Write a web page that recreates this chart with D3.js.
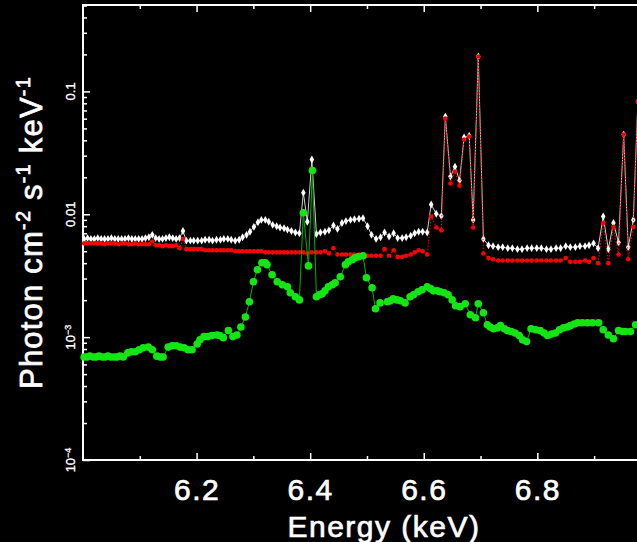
<!DOCTYPE html>
<html>
<head>
<meta charset="utf-8">
<script src="https://cdn.jsdelivr.net/npm/d3@7"></script>
<style>
    html, body { margin: 0; padding: 0; background: #000; overflow: hidden; }
    svg { display: block; }
</style>
</head>
<body>
<div id="spectrum"></div>
<script>
// Energy grid shared by the white (data) and red (model) curves, keV
const energies = [
    6.002, 6.008, 6.014, 6.020, 6.026, 6.032, 6.038, 6.044, 6.050, 6.056,
    6.062, 6.068, 6.074, 6.080, 6.086, 6.092, 6.098, 6.104, 6.110, 6.116,
    6.122, 6.128, 6.134, 6.140, 6.146, 6.152, 6.158, 6.164, 6.170, 6.176,
    6.182, 6.189, 6.195, 6.202, 6.209, 6.215, 6.222, 6.228, 6.235, 6.242,
    6.248, 6.255, 6.261, 6.268, 6.275, 6.281, 6.288, 6.294, 6.301, 6.308,
    6.314, 6.321, 6.327, 6.334, 6.341, 6.347, 6.354, 6.360, 6.367, 6.374,
    6.381,
    6.388, 6.395, 6.403, 6.411,
    6.418, 6.426, 6.433, 6.441, 6.448, 6.456, 6.463, 6.471, 6.478, 6.486,
    6.493, 6.501, 6.508, 6.516, 6.524, 6.531, 6.539, 6.547, 6.554, 6.562,
    6.569, 6.577, 6.584, 6.591, 6.598, 6.606,
    6.613, 6.622, 6.631, 6.638, 6.647, 6.655, 6.663, 6.671, 6.680, 6.687,
    6.696, 6.705, 6.714, 6.722,
    6.731, 6.739, 6.748, 6.756, 6.765, 6.773, 6.782, 6.790, 6.799, 6.807,
    6.816, 6.824, 6.833, 6.841, 6.850, 6.858, 6.867, 6.875, 6.884, 6.891,
    6.899, 6.907, 6.916, 6.925, 6.934, 6.943, 6.952, 6.960, 6.969, 6.977,
    6.986, 6.994,
];

// White curve (photon cm-2 s-1 keV-1)
const whiteFlux = [
    0.0063, 0.0064, 0.0063, 0.0063, 0.0064, 0.0063, 0.0063, 0.0063, 0.0064, 0.0063,
    0.0063, 0.0063, 0.0063, 0.0064, 0.0063, 0.0063, 0.0063, 0.0063, 0.0064, 0.0065,
    0.0068, 0.0064, 0.0063, 0.0063, 0.0064, 0.0065, 0.0064, 0.0063, 0.0064, 0.0073,
    0.0061, 0.0061, 0.0061, 0.0061, 0.0061, 0.0062, 0.0062, 0.0061, 0.0062, 0.0062,
    0.0063, 0.0063, 0.0062, 0.0061, 0.0062, 0.0065, 0.0068, 0.0072, 0.0079, 0.0086,
    0.0090, 0.0090, 0.0087, 0.0082, 0.0080, 0.0078, 0.0077, 0.0075, 0.0073, 0.0071,
    0.0070,
    0.0150, 0.0087, 0.0279, 0.0069,
    0.0071, 0.0072, 0.0074, 0.0081, 0.0076, 0.0085, 0.0088, 0.0090, 0.0091, 0.0092,
    0.0093, 0.0080, 0.0068, 0.0063, 0.0065, 0.0071, 0.0066, 0.0070, 0.0064, 0.0064,
    0.0065, 0.0067, 0.0070, 0.0072, 0.0072, 0.0071,
    0.0120, 0.0101, 0.0097, 0.0624, 0.0203, 0.0244, 0.0188, 0.0421, 0.0435, 0.0090,
    0.1925, 0.0063, 0.0056, 0.0055,
    0.0054, 0.0054, 0.0053, 0.0053, 0.0052, 0.0052, 0.0053, 0.0053, 0.0053, 0.0053,
    0.0052, 0.0052, 0.0053, 0.0053, 0.0055, 0.0054, 0.0054, 0.0055, 0.0055, 0.0056,
    0.0058, 0.0053, 0.0096, 0.0052, 0.0085, 0.0059, 0.0445, 0.0054, 0.0090, 0.0827,
    0.0060, 0.0058,
];

// Red curve
const redFlux = [
    0.0058, 0.0058, 0.0058, 0.0058, 0.0058, 0.0058, 0.0057, 0.0058, 0.0058, 0.0058,
    0.0057, 0.0058, 0.0058, 0.0057, 0.0057, 0.0058, 0.0057, 0.0057, 0.0057, 0.0057,
    0.0060, 0.0056, 0.0056, 0.0055, 0.0056, 0.0055, 0.0055, 0.0056, 0.0053, 0.0063,
    0.0052, 0.0052, 0.0052, 0.0052, 0.0052, 0.0051, 0.0051, 0.0051, 0.0051, 0.0051,
    0.0051, 0.0051, 0.0051, 0.0050, 0.0050, 0.0050, 0.0050, 0.0050, 0.0050, 0.0050,
    0.0050, 0.0049, 0.0049, 0.0049, 0.0049, 0.0049, 0.0049, 0.0049, 0.0049, 0.0049,
    0.0049,
    0.0049, 0.0048, 0.0049, 0.0049,
    0.0049, 0.0050, 0.0048, 0.0053, 0.0047, 0.0047, 0.0047, 0.0047, 0.0047, 0.0047,
    0.0046, 0.0046, 0.0046, 0.0046, 0.0046, 0.0052, 0.0046, 0.0051, 0.0045, 0.0045,
    0.0046, 0.0047, 0.0049, 0.0051, 0.0050, 0.0047,
    0.0096, 0.0078, 0.0074, 0.0601, 0.0178, 0.0222, 0.0171, 0.0406, 0.0429, 0.0078,
    0.1925, 0.0048, 0.0044, 0.0043,
    0.0042, 0.0042, 0.0042, 0.0042, 0.0042, 0.0042, 0.0042, 0.0042, 0.0042, 0.0042,
    0.0042, 0.0042, 0.0042, 0.0042, 0.0044, 0.0041, 0.0041, 0.0041, 0.0042, 0.0041,
    0.0044, 0.0040, 0.0085, 0.0040, 0.0079, 0.0047, 0.0445, 0.0043, 0.0079, 0.0827,
    0.0050, 0.0048,
];

// Green curve: its own energies and fluxes
const greenEnergies = [
    6.002, 6.007, 6.012, 6.018, 6.023, 6.028, 6.034, 6.039, 6.044, 6.049,
    6.055, 6.060, 6.065, 6.071, 6.079, 6.085, 6.092, 6.099, 6.106, 6.115,
    6.122, 6.130, 6.136, 6.141, 6.150, 6.157, 6.164, 6.171, 6.178, 6.185,
    6.192, 6.201, 6.206, 6.213, 6.220, 6.227, 6.236, 6.241, 6.247, 6.256,
    6.264, 6.271, 6.278, 6.286, 6.293, 6.300, 6.307, 6.315, 6.321, 6.324,
    6.333, 6.342, 6.351, 6.360, 6.365, 6.374, 6.381, 6.388, 6.397, 6.404,
    6.411, 6.416, 6.421, 6.426, 6.432, 6.439, 6.444, 6.453, 6.462, 6.467,
    6.474, 6.479, 6.485, 6.493, 6.499, 6.509, 6.515, 6.523, 6.536, 6.541,
    6.546, 6.553, 6.559, 6.567, 6.576, 6.582, 6.590, 6.597, 6.606, 6.612,
    6.617, 6.624, 6.629, 6.636, 6.643, 6.650, 6.656, 6.664, 6.673, 6.682,
    6.691, 6.696, 6.705, 6.712, 6.717, 6.723, 6.730, 6.735, 6.742, 6.747,
    6.754, 6.761, 6.768, 6.774, 6.781, 6.789, 6.797, 6.805, 6.812, 6.818,
    6.825, 6.832, 6.839, 6.846, 6.853, 6.858, 6.865, 6.871, 6.879, 6.888,
    6.897, 6.908, 6.916, 6.925, 6.934, 6.943, 6.950, 6.955, 6.964, 6.973,
    6.982,
];
const greenFlux = [
    6.9e-4, 6.9e-4, 7.0e-4, 6.9e-4, 6.9e-4, 7.0e-4, 6.9e-4, 6.9e-4, 7.0e-4, 6.9e-4,
    6.9e-4, 6.9e-4, 7.0e-4, 6.9e-4, 7.45e-4, 7.6e-4, 7.6e-4, 7.9e-4, 8.2e-4, 8.3e-4,
    7.9e-4, 7.0e-4, 6.9e-4, 6.9e-4, 8.3e-4, 8.5e-4, 8.5e-4, 8.3e-4, 8.2e-4, 7.9e-4,
    7.9e-4, 8.8e-4, 9.5e-4, 1.01e-3, 1.01e-3, 1.03e-3, 1.04e-3, 1.03e-3, 9.9e-4, 1.13e-3,
    1.01e-3, 1.04e-3, 1.21e-3, 1.46e-3, 1.94e-3, 2.82e-3, 3.54e-3, 4.03e-3, 4.03e-3, 3.88e-3,
    3.22e-3, 2.82e-3, 2.67e-3, 2.57e-3, 2.30e-3, 2.13e-3, 2.01e-3, 0.0103, 0.0038, 0.0227,
    2.13e-3, 2.21e-3, 2.25e-3, 2.38e-3, 2.57e-3, 2.67e-3, 2.77e-3, 3.10e-3, 3.88e-3, 4.11e-3,
    4.27e-3, 4.43e-3, 4.51e-3, 4.60e-3, 3.04e-3, 2.52e-3, 1.70e-3, 1.90e-3, 1.94e-3, 1.98e-3,
    2.05e-3, 2.01e-3, 1.98e-3, 1.90e-3, 2.13e-3, 2.21e-3, 2.34e-3, 2.43e-3, 2.57e-3, 2.48e-3,
    2.38e-3, 2.38e-3, 2.34e-3, 2.30e-3, 2.21e-3, 2.01e-3, 1.80e-3, 1.77e-3, 1.87e-3, 1.52e-3,
    1.44e-3, 1.87e-3, 1.58e-3, 1.26e-3, 1.21e-3, 1.17e-3, 1.19e-3, 1.24e-3, 1.17e-3, 1.13e-3,
    1.11e-3, 1.08e-3, 1.03e-3, 9.5e-4, 9.2e-4, 1.17e-3, 1.15e-3, 1.13e-3, 1.08e-3, 1.03e-3,
    1.06e-3, 1.08e-3, 1.15e-3, 1.19e-3, 1.21e-3, 1.24e-3, 1.28e-3, 1.31e-3, 1.31e-3, 1.31e-3,
    1.31e-3, 1.31e-3, 1.15e-3, 1.04e-3, 9.7e-4, 1.13e-3, 1.11e-3, 1.11e-3, 1.11e-3, 1.26e-3,
    1.28e-3,
];

// Tick values and labels
const xMajorTicks = [6.2, 6.4, 6.6, 6.8];
const xMinorTicks = [6.1, 6.3, 6.5, 6.7, 6.9];
const yDecadeTicks = [1e-4, 1e-3, 1e-2, 1e-1];
const yTickLabels = [
    { v: 1e-4, base: "10", sup: "\u22124" },
    { v: 1e-3, base: "10", sup: "\u22123" },
    { v: 1e-2, base: "0.01", sup: "" },
    { v: 1e-1, base: "0.1", sup: "" },
];

let width = 637;
let height = 542;

let margin = {
    top: 5,
    bottom: 82,
    left: 83,
    right: -48, // frame runs past the window edge
};

let svg = d3
    .select("#spectrum")
    .append("svg")
    .attr("width", width)
    .attr("height", height)
    .style("background", "#000");

let x = d3
    .scaleLinear()
    .domain([6.0, 7.06])
    .range([margin.left, width - margin.right]);

let y = d3
    .scaleLog()
    .domain([1e-4, 0.505])
    .range([height - margin.bottom, margin.top]);

const fontFamily = "'Liberation Sans', Arial, Helvetica, sans-serif";

// minor y ticks: 2..9 in each decade
const yMinorTicks = [];
yDecadeTicks.forEach((d) => {
    for (let k = 2; k <= 9; k++) {
        if (d * k < y.domain()[1]) yMinorTicks.push(d * k);
    }
});

const styleAxis = (g) => {
    g.select(".domain").remove();
    g.selectAll(".tick line").attr("stroke", "#fff").attr("stroke-width", 1.5);
};

// bottom axis with labels
svg.append("g")
    .attr("transform", "translate(0," + y.range()[0] + ")")
    .call(
        d3.axisBottom(x)
            .tickValues(xMajorTicks)
            .tickSizeInner(-7)
            .tickSizeOuter(0)
            .tickPadding(19)
            .tickFormat(d3.format(".1f"))
    )
    .call(styleAxis)
    .selectAll("text")
    .attr("fill", "#fff")
    .attr("stroke", "#fff")
    .attr("stroke-width", 0.7)
    .style("font-family", fontFamily)
    .style("font-size", "30px")
    .style("letter-spacing", "1.5px");

svg.append("g")
    .attr("transform", "translate(0," + y.range()[0] + ")")
    .call(d3.axisBottom(x).tickValues(xMinorTicks).tickSizeInner(-4).tickSizeOuter(0).tickFormat(""))
    .call(styleAxis);

// top axis, ticks only
svg.append("g")
    .attr("transform", "translate(0," + y.range()[1] + ")")
    .call(d3.axisTop(x).tickValues(xMajorTicks).tickSizeInner(-7).tickSizeOuter(0).tickFormat(""))
    .call(styleAxis);
svg.append("g")
    .attr("transform", "translate(0," + y.range()[1] + ")")
    .call(d3.axisTop(x).tickValues(xMinorTicks).tickSizeInner(-4).tickSizeOuter(0).tickFormat(""))
    .call(styleAxis);

// left axis ticks
svg.append("g")
    .attr("transform", "translate(" + x.range()[0] + ",0)")
    .call(d3.axisLeft(y).tickValues(yDecadeTicks).tickSizeInner(-7).tickSizeOuter(0).tickFormat(""))
    .call(styleAxis);
svg.append("g")
    .attr("transform", "translate(" + x.range()[0] + ",0)")
    .call(d3.axisLeft(y).tickValues(yMinorTicks).tickSizeInner(-4).tickSizeOuter(0).tickFormat(""))
    .call(styleAxis);

// left tick labels, rotated
let yLabels = svg
    .append("g")
    .selectAll("text")
    .data(yTickLabels)
    .enter()
    .append("text")
    .attr("transform", (d) => "translate(" + (x.range()[0] - 8) + "," + y(d.v) + ") rotate(-90)")
    .attr("text-anchor", "middle")
    .attr("fill", "#fff")
    .attr("stroke", "#fff")
    .attr("stroke-width", 0.3)
    .style("font-family", fontFamily)
    .style("font-size", "13px");
yLabels.append("tspan").text((d) => d.base);
yLabels
    .filter((d) => d.sup !== "")
    .append("tspan")
    .attr("dy", "-0.5em")
    .style("font-size", "9px")
    .text((d) => d.sup);

// plot frame
svg.append("rect")
    .attr("x", x.range()[0])
    .attr("y", y.range()[1])
    .attr("width", x.range()[1] - x.range()[0])
    .attr("height", y.range()[0] - y.range()[1])
    .attr("fill", "none")
    .attr("stroke", "#fff")
    .attr("stroke-width", 2);

// axis titles
svg.append("text")
    .attr("x", 384)
    .attr("y", 537)
    .attr("text-anchor", "middle")
    .attr("fill", "#fff")
    .attr("stroke", "#fff")
    .attr("stroke-width", 0.7)
    .style("font-family", fontFamily)
    .style("font-size", "30px")
    .style("letter-spacing", "1.5px")
    .text("Energy (keV)");

let yTitle = svg
    .append("text")
    .attr("transform", "translate(42," + (y.range()[0] + y.range()[1]) / 2 + ") rotate(-90)")
    .attr("text-anchor", "middle")
    .attr("fill", "#fff")
    .attr("stroke", "#fff")
    .attr("stroke-width", 0.7)
    .style("font-family", fontFamily)
    .style("font-size", "31px")
    .style("letter-spacing", "1.2px");
const titleParts = [
    ["Photon cm", false],
    ["-2", true],
    [" s", false],
    ["-1", true],
    [" keV", false],
    ["-1", true],
];
titleParts.forEach((p, i) => {
    const prevSup = i > 0 && titleParts[i - 1][1];
    let t = yTitle.append("tspan").text(p[0]);
    if (p[1]) {
        t.attr("dy", "-12").style("font-size", "20px");
    } else if (prevSup) {
        t.attr("dy", "12");
    }
});

// curves
const whiteData = d3.zip(energies, whiteFlux);
const redData = d3.zip(energies, redFlux);
const greenData = d3.zip(greenEnergies, greenFlux);

let line = d3
    .line()
    .x((d) => x(d[0]))
    .y((d) => y(d[1]));

let curves = svg.append("g").attr("id", "curves");

curves.append("path")
    .datum(whiteData)
    .attr("fill", "none")
    .attr("stroke", "#d0d0d0")
    .attr("stroke-width", 1)
    .attr("d", line);

curves.append("g")
    .selectAll("path")
    .data(whiteData)
    .enter()
    .append("path")
    .attr("d", d3.symbol().type(d3.symbolDiamond).size(18))
    .attr("transform", (d) => "translate(" + x(d[0]) + "," + y(d[1]) + ")")
    .attr("fill", "#fff");

curves.append("path")
    .datum(redData)
    .attr("fill", "none")
    .attr("stroke", "#ff0000")
    .attr("stroke-width", 1)
    .attr("stroke-dasharray", "1.5,1.5")
    .attr("d", line);

curves.append("g")
    .selectAll("circle")
    .data(redData)
    .enter()
    .append("circle")
    .attr("cx", (d) => x(d[0]))
    .attr("cy", (d) => y(d[1]))
    .attr("r", 2.3)
    .attr("fill", "#ff0000");

curves.append("path")
    .datum(greenData)
    .attr("fill", "none")
    .attr("stroke", "#00b400")
    .attr("stroke-width", 1)
    .attr("d", line);

curves.append("g")
    .selectAll("circle")
    .data(greenData)
    .enter()
    .append("circle")
    .attr("cx", (d) => x(d[0]))
    .attr("cy", (d) => y(d[1]))
    .attr("r", 3.8)
    .attr("fill", "#14e614");
</script>
</body>
</html>
